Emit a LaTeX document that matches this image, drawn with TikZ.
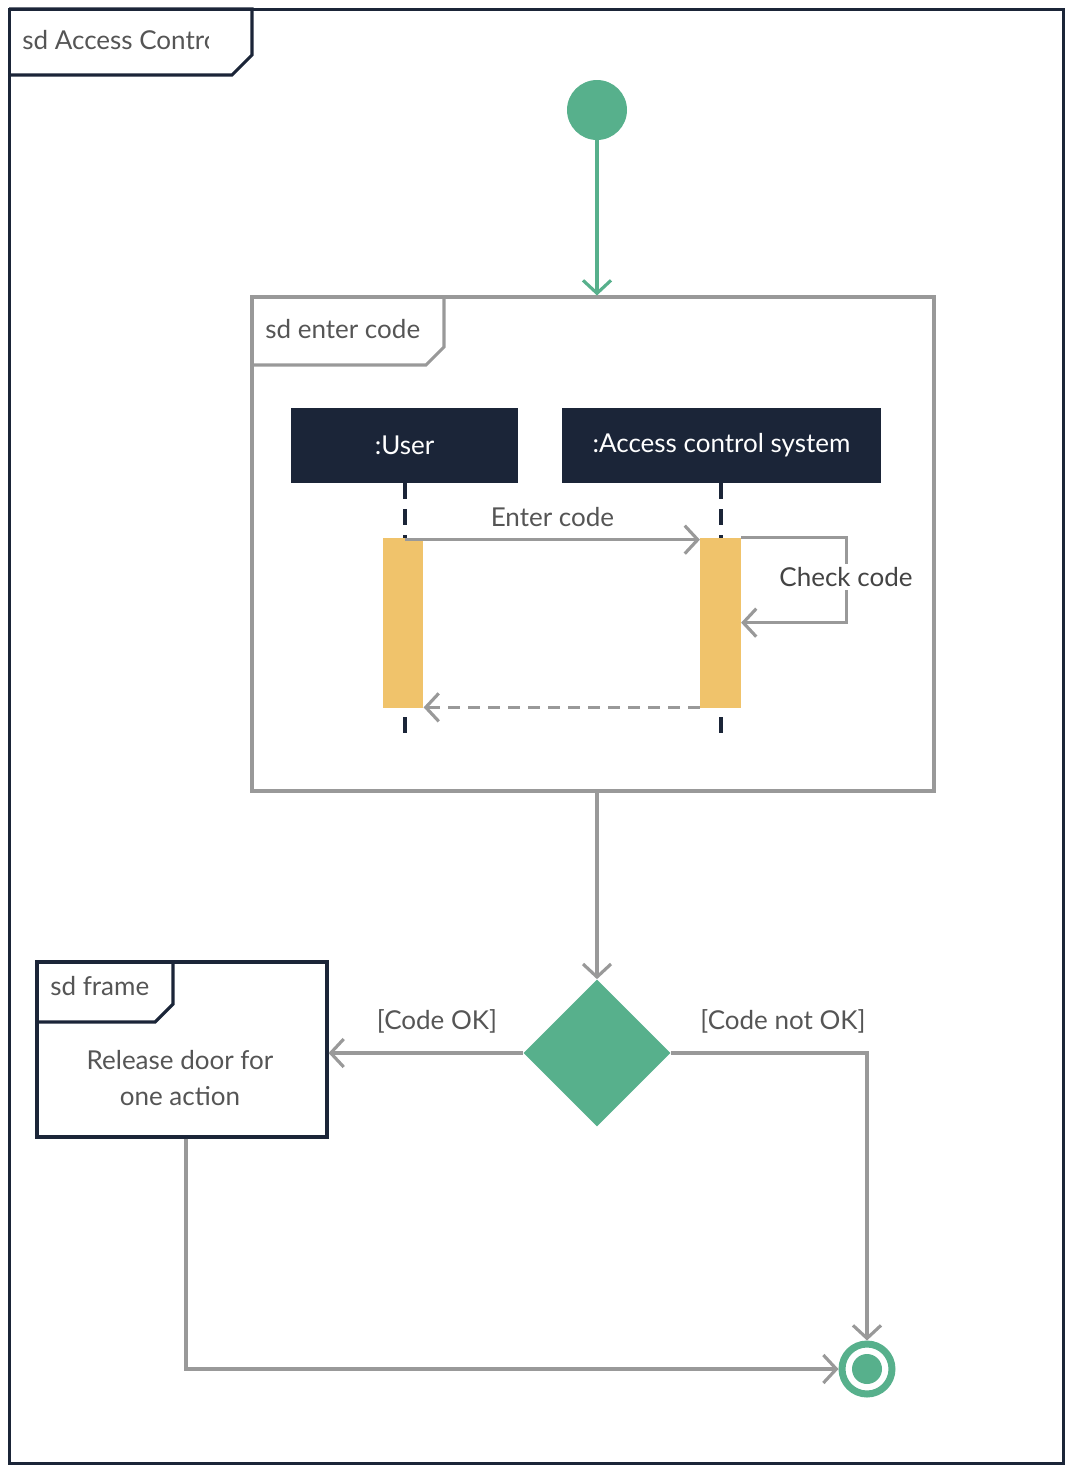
\documentclass[tikz,border=0pt]{standalone}
\usepackage{fontspec}
\setmainfont{Lato}
\usetikzlibrary{arrows.meta,shapes.geometric,positioning,calc}
\definecolor{navy}{HTML}{1B2538}
\definecolor{umlgreen}{HTML}{57B08C}
\definecolor{barorange}{HTML}{F0C36B}
\definecolor{linegray}{HTML}{999999}
\definecolor{textgray}{HTML}{555555}
\tikzset{
  navyframe/.style={draw=navy,line width=1.8pt},
  grayframe/.style={draw=linegray,line width=1.8pt},
  tabtext/.style={text=textgray,anchor=west,inner sep=0pt},
  lifebox/.style={fill=navy,text=white,minimum height=1.5cm,inner sep=0pt},
  actbar/.style={fill=barorange,minimum width=0.81cm,minimum height=3.4cm,inner sep=0pt},
  lifeline/.style={draw=navy,line width=1.9pt,dash pattern=on 0.32cm off 0.2cm},
  msg/.style={draw=linegray,line width=1.8pt,-{Straight Barb[length=2.6mm,width=5.6mm]}},
  greenmsg/.style={msg,draw=umlgreen},
  guard/.style={text=textgray}
}
\begin{document}
\begin{tikzpicture}[x=0.02cm,y=-0.02cm,font=\fontsize{14.8}{20}\selectfont]
  \useasboundingbox (0,0) rectangle (1074,1474);
  % outer frame
  \node[navyframe,minimum width=21.1cm,minimum height=29.1cm,inner sep=0pt] (outer) at (536.5,736.5) {};
  \draw[navyframe] (9,9) -- (252,9) -- (252,55) -- (232,75) -- (9,75);
  \begin{scope}
    \clip (12,12) rectangle (208,72);
    \node[tabtext] (outertab) at (22,40) {sd Access Contro};
  \end{scope}
  % start
  \node[circle,fill=umlgreen,minimum size=1.2cm,inner sep=0pt] (init) at (597,110) {};
  % sequence frame
  \node[grayframe,minimum width=13.64cm,minimum height=9.88cm,inner sep=0pt] (enter) at (593,544) {};
  \draw[grayframe] (252,297) -- (444,297) -- (444,347) -- (426,365) -- (252,365);
  \node[tabtext] (entertab) at (265,329) {sd enter code};
  \draw[greenmsg] (init) -- (init |- enter.north);
  % lifelines
  \node[lifebox,minimum width=4.54cm] (user) at (404.5,445.5) {:User};
  \node[lifebox,minimum width=6.38cm] (acs) at (721.5,445.5) {:Access control system};
  \coordinate (userend) at (405,738);
  \coordinate (acsend) at (721,738);
  \draw[lifeline] (user.south -| userend) -- (userend);
  \draw[lifeline] (acs.south -| acsend) -- (acsend);
  \node[actbar] (ubar) at (403,623) {};
  \node[actbar] (abar) at (720.5,623) {};
  % messages
  \draw[msg] ($(ubar.north)+(2,2)$) -- node[above=3pt,text=textgray] {Enter code} ($(abar.north west)+(0,2)$);
  \draw[msg] (abar.north east) -- ++(105,0) -- ++(0,85) -- ($(abar.north east)+(0,85)$);
  \node[fill=white,text=textgray!80!black,inner sep=2pt] (check) at (846,577) {Check code};
  \draw[msg,dashed,dash pattern=on 0.24cm off 0.16cm] ($(abar.south west)+(0,-1)$) -- ($(ubar.south east)+(0,-1)$);
  % decision
  \node[diamond,fill=umlgreen,minimum width=2.94cm,minimum height=2.94cm,inner sep=0pt] (dec) at (597,1053) {};
  \draw[msg] (enter.south -| dec) -- (dec.north);
  \node[navyframe,minimum width=5.8cm,minimum height=3.5cm,inner sep=0pt] (release) at (182,1049.5) {};
  \draw[navyframe] (37,962) -- (173,962) -- (173,1004) -- (155,1022) -- (37,1022);
  \node[tabtext] (releasetab) at (50,986) {sd frame};
  \node[text=textgray,align=center] (releasetxt) at (180,1078) {Release door for\\one action};
  \draw[msg] (dec.west) -- (dec.west -| release.east);
  \node[guard] (okguard) at (437,1021) {[Code OK]};
  \node[guard] (notokguard) at (783,1021) {[Code not OK]};
  % end
  \node[circle,draw=umlgreen,line width=0.14cm,fill=white,minimum size=1.0cm,inner sep=0pt] (final) at (867,1369) {};
  \node[circle,fill=umlgreen,minimum size=0.6cm,inner sep=0pt] (finaldot) at (final) {};
  \draw[msg] (dec.east) -- (dec.east -| final) -- (final.north);
  \draw[msg] (release.south -| 186,0) -- (186,1369) -- (final.west);
\end{tikzpicture}
\end{document}
